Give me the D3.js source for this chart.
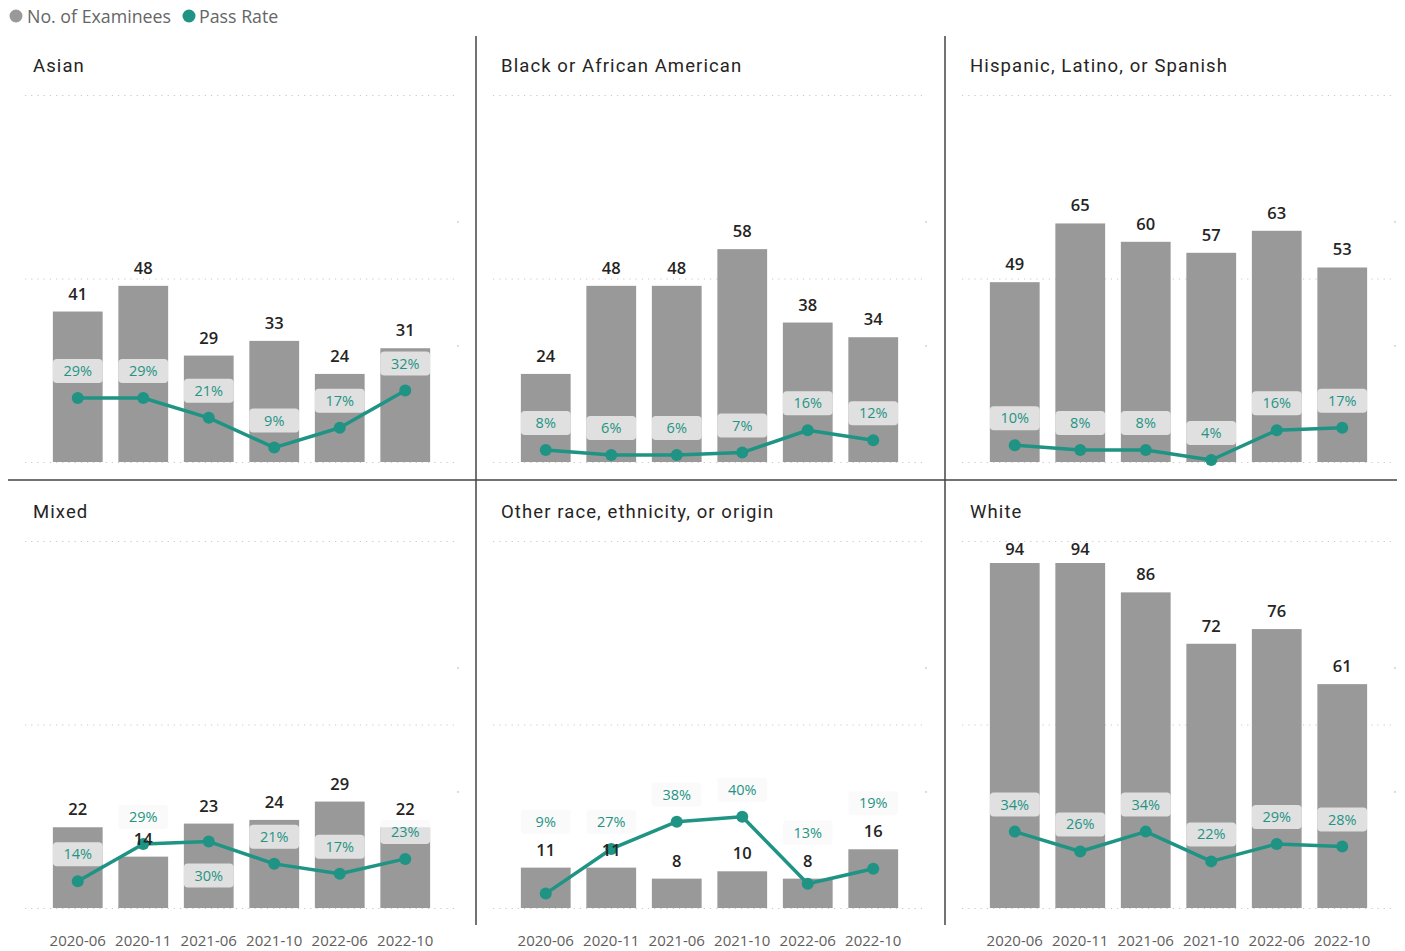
<!DOCTYPE html>
<html lang="en">
<head>
    <meta charset="UTF-8">
    <title>Examinees and Pass Rate by Race</title>
    <script src="https://d3js.org/d3.v7.min.js"></script>
    <style>
        body { margin: 0; background: #fff; }
        svg { display: block; }
    </style>
</head>
<body>
    <svg id="chart"></svg>

    <script>
        // exam sittings
        const sittings = ["2020-06", "2020-11", "2021-06", "2021-10", "2022-06", "2022-10"];

        const groups = [
            "Asian",
            "Black or African American",
            "Hispanic, Latino, or Spanish",
            "Mixed",
            "Other race, ethnicity, or origin",
            "White"
        ];

        // number of examinees, one row per group
        const examinees = [
            [41, 48, 29, 33, 24, 31],
            [24, 48, 48, 58, 38, 34],
            [49, 65, 60, 57, 63, 53],
            [22, 14, 23, 24, 29, 22],
            [11, 11, 8, 10, 8, 16],
            [94, 94, 86, 72, 76, 61]
        ];

        // pass rate in percent, one row per group
        const passRate = [
            [29, 29, 21, 9, 17, 32],
            [8, 6, 6, 7, 16, 12],
            [10, 8, 8, 4, 16, 17],
            [14, 29, 30, 21, 17, 23],
            [9, 27, 38, 40, 13, 19],
            [34, 26, 34, 22, 29, 28]
        ];

        const countTicks = [0, 50, 100];
        const rateTicks = [50, 100];

        const width = 1405;
        const height = 951;
        const grey = "#999999";
        const teal = "#1f9484";

        const svg = d3.select("#chart")
            .attr("width", width)
            .attr("height", height)
            .attr("viewBox", [0, 0, width, height]);

        // legend
        const legend = svg.append("g").attr("font-family", "'Open Sans', sans-serif")
            .attr("font-size", 17.8).attr("fill", "#666");
        legend.append("circle").attr("cx", 16).attr("cy", 16).attr("r", 6.5).attr("fill", grey);
        legend.append("text").attr("x", 27).attr("y", 22.5).text("No. of Examinees");
        legend.append("circle").attr("cx", 189).attr("cy", 16).attr("r", 6.5).attr("fill", teal);
        legend.append("text").attr("x", 199).attr("y", 22.5).text("Pass Rate");

        const colLeft = [8, 476, 945];
        const rowTop = [95, 541];
        const plotH = 367;

        groups.forEach((name, gi) => {
            const col = gi % 3, row = Math.floor(gi / 3);
            const left = colLeft[col];
            const top = rowTop[row];
            const bottom = top + plotH;
            const gx0 = left + 17, gx1 = left + 451;

            const x = d3.scaleBand()
                .domain(sittings)
                .range([left + 37, left + 430])
                .paddingInner(0.24)
                .paddingOuter(0.12);
            const y = d3.scaleLinear().domain([0, 100]).range([bottom, top]);
            const yr = d3.scaleLinear().domain([3.2, 151.2]).range([bottom, top]);

            const data = sittings.map((s, i) => ({ s, n: examinees[gi][i], r: passRate[gi][i] }));

            const g = svg.append("g");

            // title
            g.append("text")
                .attr("x", left + 25)
                .attr("y", top - 23)
                .attr("font-family", "Roboto, sans-serif")
                .attr("font-size", 18.5)
                .attr("letter-spacing", 1.1)
                .attr("fill", "#252423")
                .text(name);

            // dotted gridlines
            g.append("g")
                .attr("transform", `translate(${gx0},0)`)
                .call(d3.axisLeft(y).tickValues(countTicks).tickSize(-(gx1 - gx0)).tickFormat(""))
                .call(a => a.select(".domain").remove())
                .call(a => a.selectAll("line")
                    .attr("stroke", "#c8c8c8")
                    .attr("stroke-dasharray", "1.2,5"));

            g.selectAll(".rtick")
                .data(rateTicks)
                .join("circle")
                .attr("cx", gx1 - 1)
                .attr("cy", d => yr(d))
                .attr("r", 0.9)
                .attr("fill", "#c8c8c8");

            // bars
            g.selectAll(".bar")
                .data(data)
                .join("rect")
                .attr("x", d => x(d.s))
                .attr("width", x.bandwidth())
                .attr("y", d => y(d.n))
                .attr("height", d => bottom - y(d.n))
                .attr("fill", grey);

            // line
            const line = d3.line()
                .x(d => x(d.s) + x.bandwidth() / 2)
                .y(d => yr(d.r));
            g.append("path")
                .datum(data)
                .attr("d", line)
                .attr("fill", "none")
                .attr("stroke", teal)
                .attr("stroke-width", 3.5)
                .attr("stroke-linejoin", "round");
            g.selectAll(".dot")
                .data(data)
                .join("circle")
                .attr("cx", d => x(d.s) + x.bandwidth() / 2)
                .attr("cy", d => yr(d.r))
                .attr("r", 6)
                .attr("fill", teal);

            // label placement: count labels above bars, rate labels above dots unless they collide
            data.forEach(d => {
                d.ny = Math.max(y(d.n) - 18, top + 8);
                const dy = yr(d.r);
                let ly = dy - 27;
                if (Math.abs(ly - d.ny) < 20) {
                    ly = dy + 34;
                    if (ly + 12 > bottom) ly = d.ny - 28;
                }
                d.ry = ly;
            });

            // rate labels with soft background
            const rl = g.selectAll(".rl")
                .data(data)
                .join("g")
                .attr("transform", d => `translate(${x(d.s)},${d.ry})`);
            rl.append("rect")
                .attr("x", 0)
                .attr("y", -12)
                .attr("width", x.bandwidth())
                .attr("height", 24)
                .attr("rx", 4)
                .attr("fill", "#f8f8f8")
                .attr("fill-opacity", 0.75);
            rl.append("text")
                .attr("x", x.bandwidth() / 2)
                .attr("y", 5)
                .attr("text-anchor", "middle")
                .attr("font-family", "'Open Sans', sans-serif")
                .attr("font-size", 14.5)
                .attr("fill", teal)
                .text(d => d.r + "%");

            // count labels
            g.selectAll(".nl")
                .data(data)
                .join("text")
                .attr("x", d => x(d.s) + x.bandwidth() / 2)
                .attr("y", d => d.ny + 6)
                .attr("text-anchor", "middle")
                .attr("font-family", "'Open Sans', sans-serif")
                .attr("font-weight", 600)
                .attr("font-size", 16.5)
                .attr("fill", "#252423")
                .text(d => d.n);

            // category axis on the bottom row
            if (row === 1) {
                g.append("g")
                    .attr("transform", `translate(0,${bottom + 24})`)
                    .call(d3.axisBottom(x).tickSize(0))
                    .call(a => a.select(".domain").remove())
                    .call(a => a.selectAll("text")
                        .attr("font-family", "'Open Sans', sans-serif")
                        .attr("font-size", 15)
                        .attr("fill", "#605e5c"));
            }
        });

        // panel dividers
        const dividers = svg.append("g").attr("stroke", "#444").attr("stroke-width", 1.5);
        [476, 945].forEach(px => {
            dividers.append("line").attr("x1", px).attr("x2", px).attr("y1", 36).attr("y2", 925);
        });
        dividers.append("line").attr("x1", 8).attr("x2", 1397).attr("y1", 480).attr("y2", 480);
    </script>
</body>
</html>
